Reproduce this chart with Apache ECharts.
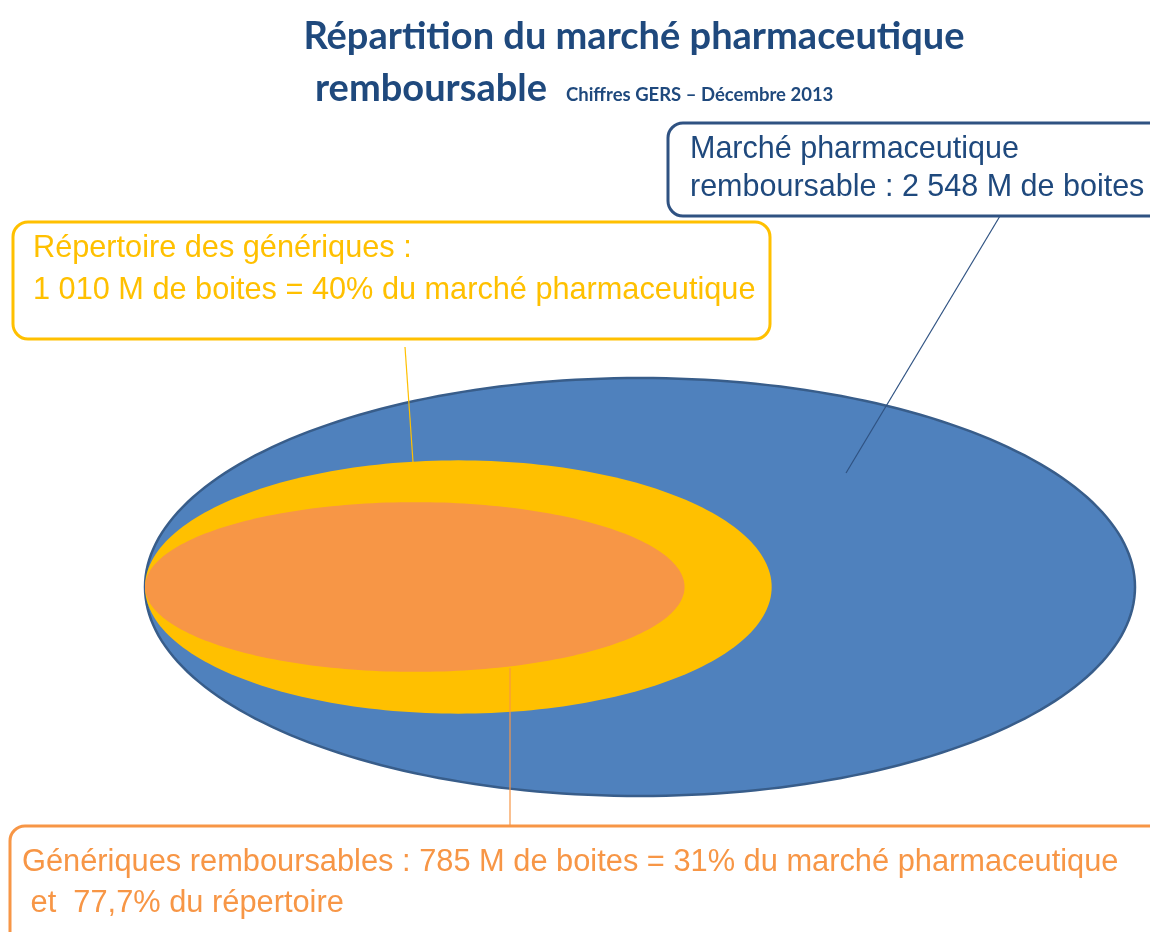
<!DOCTYPE html>
<html>
<head>
<meta charset="utf-8">
<script src="https://cdn.jsdelivr.net/npm/echarts@6/dist/echarts.min.js"></script>
<style>
  html, body { margin: 0; padding: 0; background: #fff; }
  #chart { width: 1150px; height: 932px; }
</style>
</head>
<body>
<div id="chart"></div>
<script>
// segments du marché (M de boites)
var segments = ['Marché pharmaceutique remboursable', 'Répertoire des génériques', 'Génériques remboursables']
var boites = [2548, 1010, 785]
var partMarche = [100, 40, 31]
var partRepertoire = 77.7
var ellipseGauche = [0, 0, 0]
var ellipseDroite = [100, 63.3, 54.5]
var ellipseDemiHauteur = [50, 30.3, 20.3]
var couleurs = ['#4F81BD', '#FFC000', '#F79646']

var bleuFonce = '#1F497D'
var police = '"Liberation Sans", Arial, sans-serif'

var data = segments.map(function (nom, i) {
  return { name: nom, value: [ellipseGauche[i], ellipseDroite[i], ellipseDemiHauteur[i], boites[i]] }
})

function renderEllipse (params, api) {
  var g = api.value(0)
  var d = api.value(1)
  var h = api.value(2)
  var cx = (g + d) / 2
  var rx = (d - g) / 2
  var pts = []
  for (var k = 0; k < 240; k++) {
    var a = k / 240 * Math.PI * 2
    pts.push(api.coord([cx + rx * Math.cos(a), h * Math.sin(a)]))
  }
  var i = params.dataIndex
  return {
    type: 'polygon',
    shape: { points: pts },
    style: {
      fill: couleurs[i],
      stroke: i === 0 ? '#385D8A' : null,
      lineWidth: i === 0 ? 2.5 : 0
    }
  }
}

function ligneTexte (x, y, txt, color, font, align) {
  return {
    type: 'text',
    x: x,
    y: y,
    z: 20,
    style: {
      text: txt,
      fill: color,
      font: font,
      textAlign: align || 'left',
      textVerticalAlign: 'middle'
    }
  }
}

function cadre (x, y, w, h, color) {
  return {
    type: 'rect',
    z: 10,
    shape: { x: x, y: y, width: w, height: h, r: 15 },
    style: { fill: '#fff', stroke: color, lineWidth: 3 }
  }
}

function trait (x1, y1, x2, y2, color) {
  return {
    type: 'line',
    z: 15,
    shape: { x1: x1, y1: y1, x2: x2, y2: y2 },
    style: { stroke: color, lineWidth: 1.2 }
  }
}

var chart = echarts.init(document.getElementById('chart'))
chart.setOption({
  animation: false,
  grid: { left: 145, right: 15, top: 378, bottom: 136 },
  xAxis: { type: 'value', min: 0, max: 100, show: false },
  yAxis: { type: 'value', min: -50, max: 50, show: false },
  series: [{
    type: 'custom',
    renderItem: renderEllipse,
    data: data,
    z: 2
  }],
  graphic: [
    // titre
    ligneTexte(634, 37, 'Répartition du marché pharmaceutique', bleuFonce, 'bold 38px Lato, sans-serif', 'center'),
    ligneTexte(315, 89, 'remboursable', bleuFonce, 'bold 38px Lato, sans-serif'),
    ligneTexte(566, 95, 'Chiffres GERS – Décembre 2013', bleuFonce, 'bold 18.5px Lato, sans-serif'),
    // marché total
    cadre(668, 123, 510, 93, '#2F5282'),
    ligneTexte(690, 150, 'Marché pharmaceutique', bleuFonce, '30.5px ' + police),
    ligneTexte(690, 188, 'remboursable : ' + boites[0].toLocaleString('fr-FR').replace(/\s/g, ' ') + ' M de boites', bleuFonce, '30.5px ' + police),
    trait(1000, 216, 846, 473, '#2F5282'),
    // répertoire
    cadre(13, 222, 757, 117, couleurs[1]),
    ligneTexte(33, 249, 'Répertoire des génériques :', couleurs[1], '30.7px ' + police),
    ligneTexte(33, 291, '1 010 M de boites = ' + partMarche[1] + '% du marché pharmaceutique', couleurs[1], '30.7px ' + police),
    trait(405, 347, 413, 462, couleurs[1]),
    // génériques
    cadre(10, 826, 1160, 140, couleurs[2]),
    ligneTexte(22, 863, 'Génériques remboursables : ' + boites[2] + ' M de boites = ' + partMarche[2] + '% du marché pharmaceutique', couleurs[2], '30.8px ' + police),
    ligneTexte(22, 904, ' et  ' + String(partRepertoire).replace('.', ',') + '% du répertoire', couleurs[2], '30.8px ' + police),
    trait(510, 668, 510, 826, couleurs[2])
  ]
})
</script>
</body>
</html>
